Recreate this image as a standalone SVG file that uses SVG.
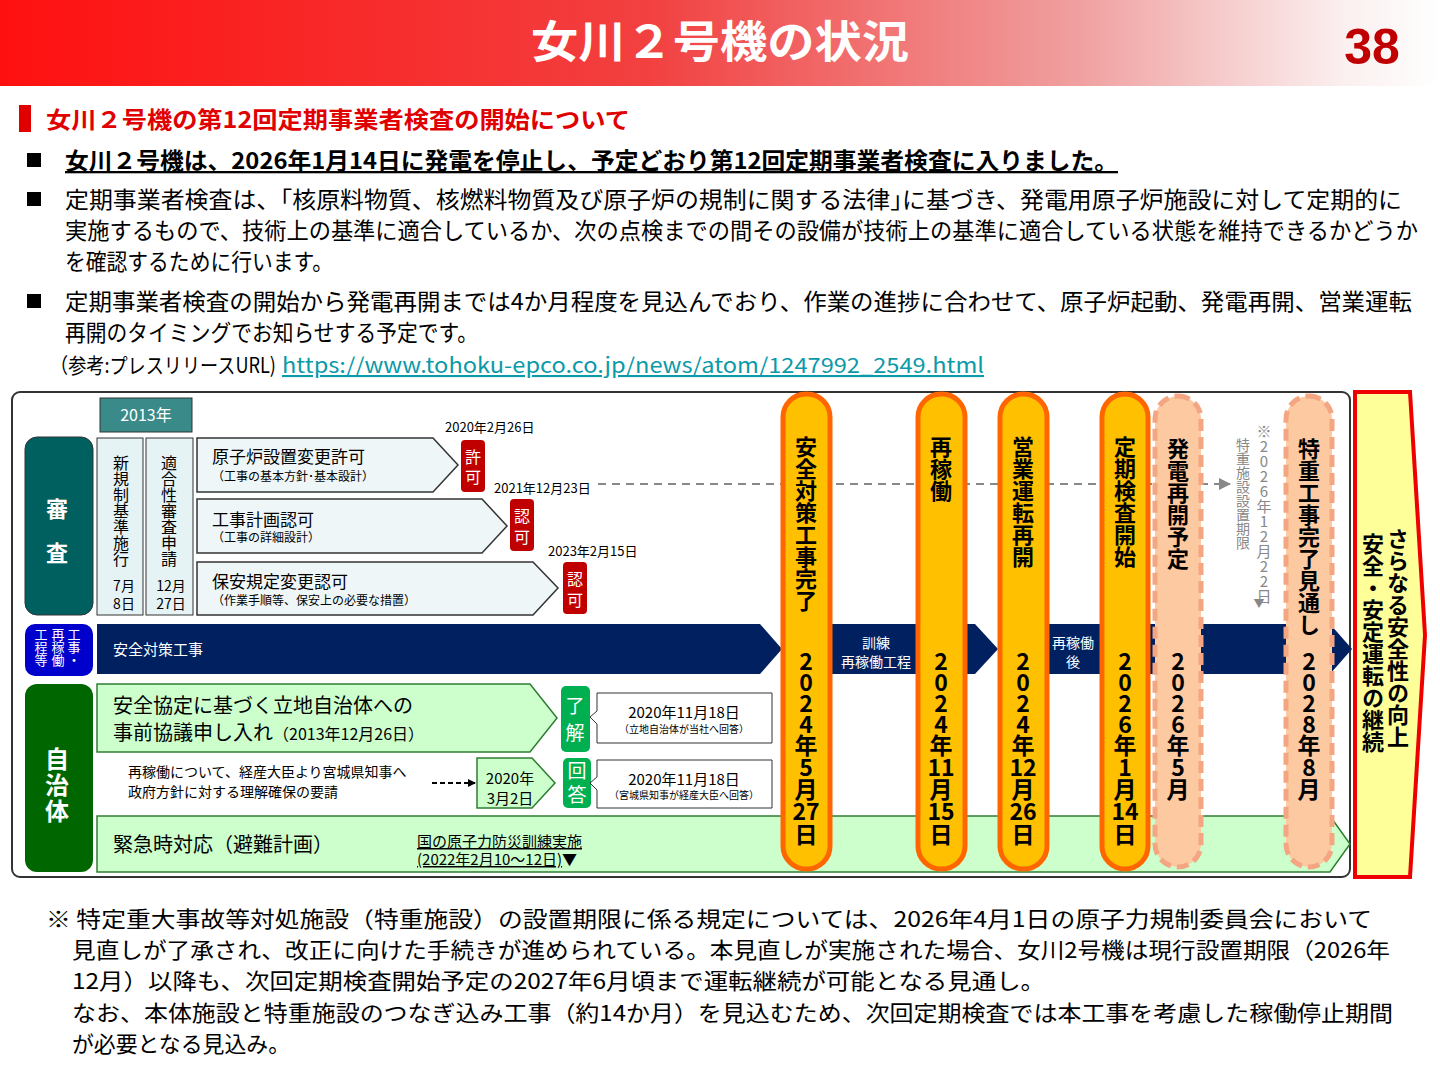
<svg xmlns="http://www.w3.org/2000/svg" width="1440" height="1080" viewBox="0 0 1440 1080">
<style>
text{font-family:"Noto Sans CJK JP","Noto Sans",sans-serif;}
.v{writing-mode:vertical-rl;text-orientation:upright;}
.pl{font-size:22px;font-weight:bold;fill:#000;}
.pd{font-size:23px;font-weight:bold;fill:#000;text-anchor:middle;}
.b{font-size:23px;fill:#000;}
.w{fill:#fff;}
.badge{fill:#c00000;}
.gbadge{fill:#00b050;}
.pill{fill:#ffc000;stroke:#ff6600;stroke-width:5;}
.dpill{fill:#fcc9a0;stroke:#f4a582;stroke-width:5;stroke-dasharray:12 6;}
.garr{fill:#ccffcc;stroke:#2e7d32;stroke-width:1.5;}
.barr{fill:#eef6f8;stroke:#333;stroke-width:1.5;}
</style>
<defs>
<linearGradient id="hg" x1="0" x2="1" y1="0" y2="0">
<stop offset="0" stop-color="#ff1010"/><stop offset="0.45" stop-color="#f24040"/><stop offset="0.75" stop-color="#f0a0a0"/><stop offset="0.93" stop-color="#fbeeee"/><stop offset="1" stop-color="#ffffff"/>
</linearGradient>
<marker id="ah" markerWidth="8" markerHeight="8" refX="7" refY="4" orient="auto" markerUnits="userSpaceOnUse"><path d="M0,0 L8,4 L0,8 z" fill="#000"/></marker>
<marker id="ahg" markerWidth="12" markerHeight="12" refX="11" refY="6" orient="auto" markerUnits="userSpaceOnUse"><path d="M0,0 L12,6 L0,12 z" fill="#888"/></marker>
</defs>
<rect width="1440" height="1080" fill="#fff"/>
<rect x="0" y="0" width="1440" height="86" fill="url(#hg)"/>
<text x="720" y="58" text-anchor="middle" font-size="44" font-weight="bold" fill="#fff" textLength="378" lengthAdjust="spacingAndGlyphs">女川２号機の状況</text>
<text x="1372" y="64" text-anchor="middle" font-size="50" font-weight="bold" fill="#c00000" style="font-family:'Liberation Sans',sans-serif">38</text>
<rect x="19" y="105" width="12" height="27" fill="#e00000"/>
<text x="46" y="128" font-size="23" font-weight="bold" fill="#e00000" textLength="584" lengthAdjust="spacingAndGlyphs">女川２号機の第12回定期事業者検査の開始について</text>
<g class="b">
<rect x="27" y="153" width="14" height="14" fill="#000"/>
<text x="65" y="169" font-weight="bold" text-decoration="underline" font-size="23" textLength="1053" lengthAdjust="spacingAndGlyphs">女川２号機は、2026年1月14日に発電を停止し、予定どおり第12回定期事業者検査に入りました。</text>
<rect x="27" y="192" width="14" height="14" fill="#000"/>
<text x="65" y="208" font-size="23" textLength="1337" lengthAdjust="spacingAndGlyphs">定期事業者検査は、｢核原料物質、核燃料物質及び原子炉の規制に関する法律｣に基づき、発電用原子炉施設に対して定期的に</text>
<text x="65" y="239" font-size="23" textLength="1353" lengthAdjust="spacingAndGlyphs">実施するもので、技術上の基準に適合しているか、次の点検までの間その設備が技術上の基準に適合している状態を維持できるかどうか</text>
<text x="65" y="270" font-size="23" textLength="268" lengthAdjust="spacingAndGlyphs">を確認するために行います。</text>
<rect x="27" y="294" width="14" height="14" fill="#000"/>
<text x="65" y="310" font-size="23" textLength="1347" lengthAdjust="spacingAndGlyphs">定期事業者検査の開始から発電再開までは4か月程度を見込んでおり、作業の進捗に合わせて、原子炉起動、発電再開、営業運転</text>
<text x="65" y="341" font-size="23" textLength="413" lengthAdjust="spacingAndGlyphs">再開のタイミングでお知らせする予定です。</text>
<text x="50" y="373" font-size="21" textLength="226" lengthAdjust="spacingAndGlyphs">（参考:プレスリリースURL)</text>
<text x="282" y="373" font-size="21" fill="#0a9aa8" text-decoration="underline" textLength="702" lengthAdjust="spacingAndGlyphs">https://www.tohoku-epco.co.jp/news/atom/1247992_2549.html</text>
</g>
<rect x="12" y="392" width="1338" height="485" rx="8" fill="#fff" stroke="#333" stroke-width="2"/>
<g id="connectors">
<line x1="598" y1="484" x2="1230" y2="484" stroke="#888" stroke-width="2" stroke-dasharray="8 6" marker-end="url(#ahg)"/>
<line x1="432" y1="783" x2="475" y2="783" stroke="#000" stroke-width="2" stroke-dasharray="5 3" marker-end="url(#ah)"/>
<polygon points="97,624 760,624 782,649 760,674 97,674" fill="#002060"/>
<polygon points="830,624 975,624 998,649 975,674 830,674" fill="#002060"/>
<polygon points="1046,624 1330,624 1352,649 1330,674 1046,674" fill="#002060"/>
</g>
<g id="y2013"><rect x="100" y="398" width="92" height="34" fill="#3a8a8a" stroke="#333"/><text x="146" y="421" text-anchor="middle" font-size="16" class="w">2013年</text></g>
<g id="shinsa"><rect x="25" y="437" width="68" height="178" rx="12" fill="#006060" stroke="#333"/><text x="57" y="517" text-anchor="middle" font-size="22" font-weight="bold" class="w">審</text><text x="57" y="561" text-anchor="middle" font-size="22" font-weight="bold" class="w">査</text></g>
<g id="cols">
<rect x="97" y="438" width="46" height="177" fill="#e6f3f5" stroke="#333"/>
<rect x="146" y="438" width="47" height="177" fill="#e6f3f5" stroke="#333"/>
<text x="121" y="455" class="v" font-size="16">新規制基準施行</text>
<text x="169" y="455" class="v" font-size="16">適合性審査申請</text>
<text x="124" y="591" text-anchor="middle" font-size="14">7月</text><text x="124" y="609" text-anchor="middle" font-size="14">8日</text>
<text x="171" y="591" text-anchor="middle" font-size="14">12月</text><text x="171" y="609" text-anchor="middle" font-size="14">27日</text>
</g>
<g id="a1"><polygon class="barr" points="197,438 433,438 458,465 433,492 197,492"/><text x="212" y="463" font-size="17">原子炉設置変更許可</text><text x="212" y="481" font-size="12">（工事の基本方針･基本設計）</text>
<text x="445" y="432" font-size="13">2020年2月26日</text><rect class="badge" x="461" y="440" width="24" height="52" rx="4"/><text x="473" y="463" text-anchor="middle" font-size="16" class="w">許</text><text x="473" y="483" text-anchor="middle" font-size="16" class="w">可</text></g>
<g id="a2"><polygon class="barr" points="197,499 482,499 507,526 482,553 197,553"/><text x="212" y="526" font-size="17">工事計画認可</text><text x="212" y="542" font-size="12">（工事の詳細設計）</text>
<text x="494" y="493" font-size="13">2021年12月23日</text><rect class="badge" x="510" y="499" width="24" height="52" rx="4"/><text x="522" y="522" text-anchor="middle" font-size="16" class="w">認</text><text x="522" y="543" text-anchor="middle" font-size="16" class="w">可</text></g>
<g id="a3"><polygon class="barr" points="197,562 533,562 558,588 533,615 197,615"/><text x="212" y="588" font-size="17">保安規定変更認可</text><text x="212" y="605" font-size="12">（作業手順等、保安上の必要な措置）</text>
<text x="548" y="556" font-size="13">2023年2月15日</text><rect class="badge" x="563" y="562" width="24" height="52" rx="4"/><text x="575" y="585" text-anchor="middle" font-size="16" class="w">認</text><text x="575" y="606" text-anchor="middle" font-size="16" class="w">可</text></g>
<g id="koji"><rect x="25" y="624" width="68" height="52" rx="10" fill="#0000cc"/>
<text x="74" y="628" class="v w" font-size="13">工事・</text><text x="58" y="628" class="v w" font-size="13">再稼働</text><text x="41" y="628" class="v w" font-size="13">工程等</text>
<text x="113" y="655" font-size="15" class="w">安全対策工事</text>
<text x="876" y="648" text-anchor="middle" font-size="14" class="w">訓練</text><text x="876" y="667" text-anchor="middle" font-size="14" class="w">再稼働工程</text>
<text x="1073" y="648" text-anchor="middle" font-size="14" class="w">再稼働</text><text x="1073" y="667" text-anchor="middle" font-size="14" class="w">後</text></g>
<g id="jichitai"><rect x="25" y="684" width="68" height="188" rx="12" fill="#006600"/>
<text x="57" y="768" text-anchor="middle" font-size="24" font-weight="bold" class="w">自</text><text x="57" y="794" text-anchor="middle" font-size="24" font-weight="bold" class="w">治</text><text x="57" y="820" text-anchor="middle" font-size="24" font-weight="bold" class="w">体</text></g>
<g id="emg"><polygon class="garr" points="97,816 1330,816 1350,844 1330,872 97,872"/>
<text x="113" y="852" font-size="20">緊急時対応（避難計画）</text>
<text x="417" y="847" font-size="15" text-decoration="underline">国の原子力防災訓練実施</text>
<text x="417" y="865" font-size="15"><tspan text-decoration="underline">(2022年2月10～12日)</tspan>▼</text></g>
<g id="g1"><polygon class="garr" points="97,684 530,684 557,718 530,752 97,752"/>
<text x="113" y="713" font-size="20">安全協定に基づく立地自治体への</text>
<text x="113" y="740" font-size="20">事前協議申し入れ<tspan font-size="16">（2013年12月26日）</tspan></text>
<rect class="gbadge" x="561" y="686" width="29" height="66" rx="5"/><text x="575" y="713" text-anchor="middle" font-size="19" class="w">了</text><text x="575" y="740" text-anchor="middle" font-size="19" class="w">解</text>
<path d="M597,693 H772 V743 H597 V724 L590,717 L597,711 Z" fill="#fff" stroke="#333"/>
<text x="684" y="718" text-anchor="middle" font-size="15">2020年11月18日</text><text x="684" y="733" text-anchor="middle" font-size="10">（立地自治体が当社へ回答）</text></g>
<g id="g2"><text x="128" y="777" font-size="14">再稼働について、経産大臣より宮城県知事へ</text><text x="128" y="797" font-size="14">政府方針に対する理解確保の要請</text>
<polygon class="garr" points="477,758 532,758 555,783 532,808 477,808"/>
<text x="510" y="784" text-anchor="middle" font-size="15">2020年</text><text x="510" y="804" text-anchor="middle" font-size="15">3月2日</text>
<rect class="gbadge" x="563" y="758" width="28" height="50" rx="5"/><text x="577" y="778" text-anchor="middle" font-size="19" class="w">回</text><text x="577" y="802" text-anchor="middle" font-size="19" class="w">答</text>
<path d="M597,760 H772 V808 H597 V790 L590,783 L597,777 Z" fill="#fff" stroke="#333"/>
<text x="684" y="785" text-anchor="middle" font-size="15">2020年11月18日</text><text x="684" y="799" text-anchor="middle" font-size="10">（宮城県知事が経産大臣へ回答）</text></g>
<g id="p1"><rect class="pill" x="783" y="394" width="47" height="475" rx="23"/><text x="806" y="436" class="v pl">安全対策工事完了</text>
<g class="pd"><text x="806" y="670">2</text><text x="806" y="691">0</text><text x="806" y="712">2</text><text x="806" y="733">4</text><text x="806" y="754">年</text><text x="806" y="776">5</text><text x="806" y="798">月</text><text x="806" y="820">27</text><text x="806" y="843">日</text></g></g>
<g id="p2"><rect class="pill" x="918" y="394" width="47" height="475" rx="23"/><text x="941" y="436" class="v pl">再稼働</text>
<g class="pd"><text x="941" y="670">2</text><text x="941" y="691">0</text><text x="941" y="712">2</text><text x="941" y="733">4</text><text x="941" y="754">年</text><text x="941" y="776">11</text><text x="941" y="798">月</text><text x="941" y="820">15</text><text x="941" y="843">日</text></g></g>
<g id="p3"><rect class="pill" x="1000" y="394" width="47" height="475" rx="23"/><text x="1023" y="436" class="v pl">営業運転再開</text>
<g class="pd"><text x="1023" y="670">2</text><text x="1023" y="691">0</text><text x="1023" y="712">2</text><text x="1023" y="733">4</text><text x="1023" y="754">年</text><text x="1023" y="776">12</text><text x="1023" y="798">月</text><text x="1023" y="820">26</text><text x="1023" y="843">日</text></g></g>
<g id="p4"><rect class="pill" x="1102" y="394" width="46" height="475" rx="23"/><text x="1125" y="436" class="v pl">定期検査開始</text>
<g class="pd"><text x="1125" y="670">2</text><text x="1125" y="691">0</text><text x="1125" y="712">2</text><text x="1125" y="733">6</text><text x="1125" y="754">年</text><text x="1125" y="776">1</text><text x="1125" y="798">月</text><text x="1125" y="820">14</text><text x="1125" y="843">日</text></g></g>
<g id="p5"><rect class="dpill" x="1155" y="396" width="46" height="471" rx="23"/><text x="1178" y="438" class="v pl">発電再開予定</text>
<g class="pd"><text x="1178" y="670">2</text><text x="1178" y="691">0</text><text x="1178" y="712">2</text><text x="1178" y="733">6</text><text x="1178" y="754">年</text><text x="1178" y="776">5</text><text x="1178" y="798">月</text></g></g>
<g id="note26"><text x="1264" y="424" class="v" font-size="15" fill="#888">※2026年12月22日</text><text x="1243" y="438" class="v" font-size="14" fill="#888">特重施設設置期限</text><text x="1259" y="608" text-anchor="middle" font-size="11" fill="#888">▼</text></g>
<g id="p6"><rect class="dpill" x="1286" y="396" width="46" height="471" rx="23"/><text x="1309" y="438" class="v pl">特重工事完了見通し</text>
<g class="pd"><text x="1309" y="670">2</text><text x="1309" y="691">0</text><text x="1309" y="712">2</text><text x="1309" y="733">8</text><text x="1309" y="754">年</text><text x="1309" y="776">8</text><text x="1309" y="798">月</text></g></g>
<g id="goal"><polygon points="1355,392 1410,392 1425,635 1410,877 1355,877" fill="#ffff99" stroke="#ee0000" stroke-width="4"/>
<text x="1398" y="528" class="v" font-size="22" font-weight="bold">さらなる安全性の向上</text>
<text x="1373" y="533" class="v" font-size="22" font-weight="bold">安全・安定運転の継続</text></g>
<g font-size="22">
<text x="46" y="927" textLength="1326" lengthAdjust="spacingAndGlyphs">※ 特定重大事故等対処施設（特重施設）の設置期限に係る規定については、2026年4月1日の原子力規制委員会において</text>
<text x="72" y="958" textLength="1318" lengthAdjust="spacingAndGlyphs">見直しが了承され、改正に向けた手続きが進められている。本見直しが実施された場合、女川2号機は現行設置期限（2026年</text>
<text x="72" y="989" textLength="973" lengthAdjust="spacingAndGlyphs">12月）以降も、次回定期検査開始予定の2027年6月頃まで運転継続が可能となる見通し。</text>
<text x="72" y="1021" textLength="1321" lengthAdjust="spacingAndGlyphs">なお、本体施設と特重施設のつなぎ込み工事（約14か月）を見込むため、次回定期検査では本工事を考慮した稼働停止期間</text>
<text x="72" y="1052" textLength="218" lengthAdjust="spacingAndGlyphs">が必要となる見込み。</text>
</g>
</svg>
